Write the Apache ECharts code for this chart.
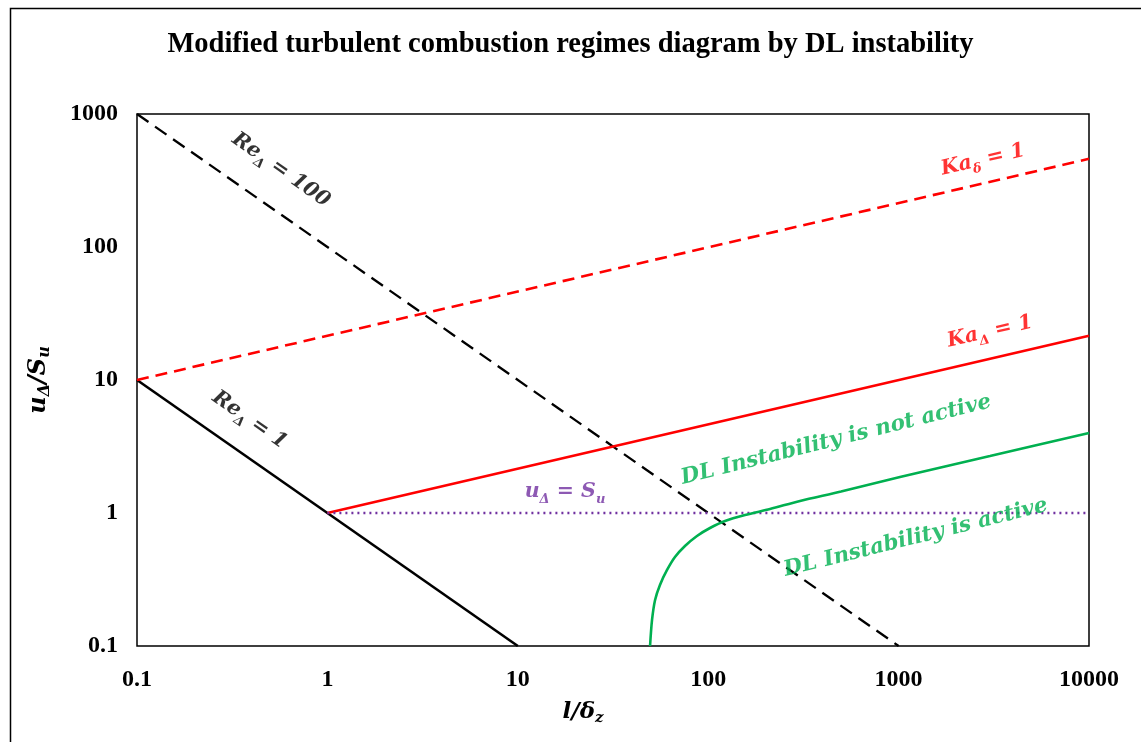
<!DOCTYPE html>
<html>
<head>
<meta charset="utf-8">
<title>Turbulent combustion regimes</title>
<script src="https://cdn.jsdelivr.net/npm/echarts@6/dist/echarts.min.js"></script>
<style>
  html, body { margin: 0; padding: 0; background: #fff; }
  #chart { width: 1141px; height: 742px; }
</style>
</head>
<body>
<div id="chart"></div>
<script>
// Axis ticks (decades)
const xTickLabels = ['0.1', '1', '10', '100', '1000', '10000'];
const yTickLabels = ['0.1', '1', '10', '100', '1000'];

// Regime boundaries, [l/δz, uΔ/Su]
const reDelta100 = [[0.1, 1000], [1000, 0.1]];
const reDelta1 = [[0.1, 10], [10, 0.1]];
const kaDelta1 = [[1, 1], [10000, 21.5]];
const kaSmallDelta1 = [[0.1, 10], [10000, 460]];
const uEqualsSu = [[1, 1], [10000, 1]];

// DL instability limit
const dlX = [49.5, 50.7, 52.6, 55.8, 60.8, 66.9, 75.5, 87.3, 102.2, 122.6, 156.1, 211.2, 303.5, 498.4, 1017, 3020, 10000];
const dlY = [0.1, 0.157, 0.222, 0.288, 0.373, 0.467, 0.565, 0.672, 0.771, 0.871, 0.966, 1.072, 1.231, 1.451, 1.865, 2.683, 3.995];

// Region / line annotations: [x, y, text, colour, rotation, font size]
const annotations = [
  [0.57, 380, '{m|Re}{s|Δ}{m| = 100}', '#000000', -35, 20.5],
  [0.39, 5.0, '{m|Re}{s|Δ}{m| = 1}', '#000000', -35, 20.5],
  [2775, 451, '{m|Ka}{s|δ}{m| = 1}', '#FF0000', 13, 20.5],
  [3020, 23, '{m|Ka}{s|Δ}{m| = 1}', '#FF0000', 13, 20.5],
  [17.7, 1.44, '{m|u}{s|Δ}{m| = S}{s|u}', '#7030A0', 0, 20.5],
  [470, 3.54, '{m|DL Instability is not active}', '#00B050', 14, 21.5],
  [1230, 0.65, '{m|DL Instability is active}', '#00B050', 14, 21.5]
];

const mathFont = 'DejaVu Serif';
const tickFont = 'Liberation Serif';

function richStyles(size, color) {
  const base = { fontFamily: mathFont, fontStyle: 'italic', fontWeight: 'bold', color: color, textBorderWidth: 0 };
  return {
    m: Object.assign({}, base, { fontSize: size, lineHeight: 28 }),
    s: Object.assign({}, base, { fontSize: Math.round(size * 0.65), lineHeight: 13, verticalAlign: 'bottom' })
  };
}

function decadeIndex(v) {
  return Math.round(Math.log10(v)) + 1;
}

function lineSeries(name, data, color, type, width) {
  return {
    name: name,
    type: 'line',
    data: data,
    symbol: 'none',
    silent: true,
    lineStyle: { color: color, type: type, width: width },
    z: 3
  };
}

const chart = echarts.init(document.getElementById('chart'), null, { renderer: 'canvas' });

chart.setOption({
  animation: false,
  backgroundColor: '#ffffff',
  title: {
    text: 'Modified turbulent combustion regimes diagram by DL instability',
    left: 'center',
    top: 25,
    textStyle: { fontFamily: tickFont, fontWeight: 'bold', fontSize: 28.5, color: '#000' }
  },
  graphic: [{
    type: 'rect',
    left: 8,
    top: 6,
    shape: { width: 1160, height: 760 },
    style: { fill: 'none', stroke: '#000', lineWidth: 1.5 },
    silent: true
  }],
  grid: {
    left: 137, top: 114, width: 952, height: 532,
    show: true, borderColor: '#000', borderWidth: 1.5, backgroundColor: 'transparent'
  },
  xAxis: {
    type: 'log',
    logBase: 10,
    min: 0.1,
    max: 10000,
    splitNumber: 5,
    name: '{m|l/δ}{s|z}',
    nameLocation: 'middle',
    nameGap: 52,
    nameTextStyle: { rich: richStyles(23, '#000'), padding: [0, 60, 0, 0] },
    axisLine: { show: false },
    axisTick: { show: false },
    splitLine: { show: false },
    axisLabel: {
      margin: 22,
      fontFamily: tickFont, fontWeight: 'bold', fontSize: 24, color: '#000',
      formatter: v => xTickLabels[decadeIndex(v)] || ''
    }
  },
  yAxis: {
    type: 'log',
    logBase: 10,
    min: 0.1,
    max: 1000,
    splitNumber: 4,
    name: '{m|u}{s|Δ}{m|/S}{s|u}',
    nameLocation: 'middle',
    nameRotate: 90,
    nameGap: 84,
    nameTextStyle: { rich: richStyles(24, '#000') },
    axisLine: { show: false },
    axisTick: { show: false },
    splitLine: { show: false },
    axisLabel: {
      margin: 19,
      fontFamily: tickFont, fontWeight: 'bold', fontSize: 24, color: '#000',
      formatter: v => yTickLabels[decadeIndex(v)] || ''
    }
  },
  series: [
    lineSeries('ReDelta100', reDelta100, '#000000', [14, 8], 2.3),
    lineSeries('ReDelta1', reDelta1, '#000000', 'solid', 2.6),
    lineSeries('KaSmallDelta1', kaSmallDelta1, '#FF0000', [12, 7], 2.6),
    lineSeries('KaDelta1', kaDelta1, '#FF0000', 'solid', 2.6),
    lineSeries('uEqualsSu', uEqualsSu, '#7030A0', [2, 4], 2.5),
    {
      name: 'DL limit',
      type: 'line',
      data: dlX.map((x, i) => [x, dlY[i]]),
      symbol: 'none',
      smooth: 0.3,
      silent: true,
      lineStyle: { color: '#00B050', width: 2.6 },
      z: 3
    },
    {
      name: 'labels',
      type: 'scatter',
      silent: true,
      symbolSize: 0,
      itemStyle: { color: 'transparent' },
      z: 5,
      data: annotations.map(a => ({
        value: [a[0], a[1]],
        label: {
          show: true,
          position: 'inside',
          rotate: a[4],
          formatter: a[2],
          color: a[3],
          textBorderWidth: 0,
          textBorderColor: 'transparent',
          rich: richStyles(a[5], a[3])
        }
      }))
    }
  ]
});
</script>
</body>
</html>
